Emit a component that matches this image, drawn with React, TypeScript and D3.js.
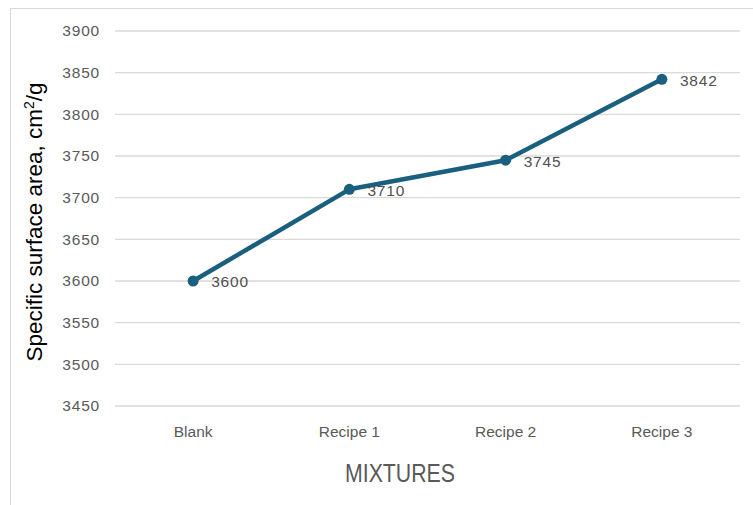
import React from "react";
import * as d3 from "d3";

const categories: string[] = ["Blank", "Recipe 1", "Recipe 2", "Recipe 3"];
const values: number[] = [3600, 3710, 3745, 3842];
const yTicks: number[] = [3450, 3500, 3550, 3600, 3650, 3700, 3750, 3800, 3850, 3900];

const W = 753;
const H = 505;
const plot = { left: 115, right: 740, top: 31, bottom: 406 };
const lineColor = "#1a5f7e";
const font = "'Liberation Sans', Arial, sans-serif";

export default function App() {
  const x = d3
    .scaleBand<string>()
    .domain(categories)
    .range([plot.left, plot.right]);
  const y = d3.scaleLinear().domain([3450, 3900]).range([plot.bottom, plot.top]);

  const cx = (c: string) => (x(c) ?? 0) + x.bandwidth() / 2;
  const line = d3
    .line<number>()
    .x((_, i) => cx(categories[i]))
    .y((v) => y(v));

  return (
    <svg
      width={W}
      height={H}
      style={{ position: "absolute", left: 0, top: 0, background: "#fff" }}
    >
      <rect x={10.5} y={8.5} width={W} height={H} fill="#fff" stroke="#d9d9d9" strokeWidth={1} />

      {yTicks.map((t) => (
        <g key={t}>
          <line
            x1={plot.left}
            x2={plot.right}
            y1={y(t)}
            y2={y(t)}
            stroke="#d9d9d9"
            strokeWidth={1.3}
          />
          <text
            x={100}
            y={y(t)}
            dy="0.35em"
            textAnchor="end"
            fontFamily={font}
            fontSize={15.5}
            letterSpacing={0.8}
            fill="#595959"
          >
            {t}
          </text>
        </g>
      ))}

      {categories.map((c) => (
        <text
          key={c}
          x={cx(c)}
          y={432}
          dy="0.35em"
          textAnchor="middle"
          fontFamily={font}
          fontSize={15.5}
          fill="#595959"
        >
          {c}
        </text>
      ))}

      <text
        x={400}
        y={473}
        dy="0.35em"
        textAnchor="middle"
        fontFamily={font}
        fontSize={25}
        textLength={110}
        lengthAdjust="spacingAndGlyphs"
        fill="#595959"
      >
        MIXTURES
      </text>

      <text
        transform={`translate(34, 222) rotate(-90)`}
        dy="0.35em"
        textAnchor="middle"
        fontFamily={font}
        fontSize={22.5}
        fill="#000"
      >
        Specific surface area, cm
        <tspan baselineShift="super" fontSize={14}>2</tspan>
        /g
      </text>

      <path
        d={line(values) ?? ""}
        fill="none"
        stroke={lineColor}
        strokeWidth={4.5}
        strokeLinejoin="round"
        strokeLinecap="round"
      />
      {values.map((v, i) => (
        <g key={categories[i]}>
          <circle cx={cx(categories[i])} cy={y(v)} r={5.5} fill={lineColor} />
          <text
            x={cx(categories[i]) + 18}
            y={y(v) + 1}
            dy="0.35em"
            fontFamily={font}
            fontSize={15.5}
            letterSpacing={0.8}
            fill="#505050"
          >
            {v}
          </text>
        </g>
      ))}
    </svg>
  );
}
